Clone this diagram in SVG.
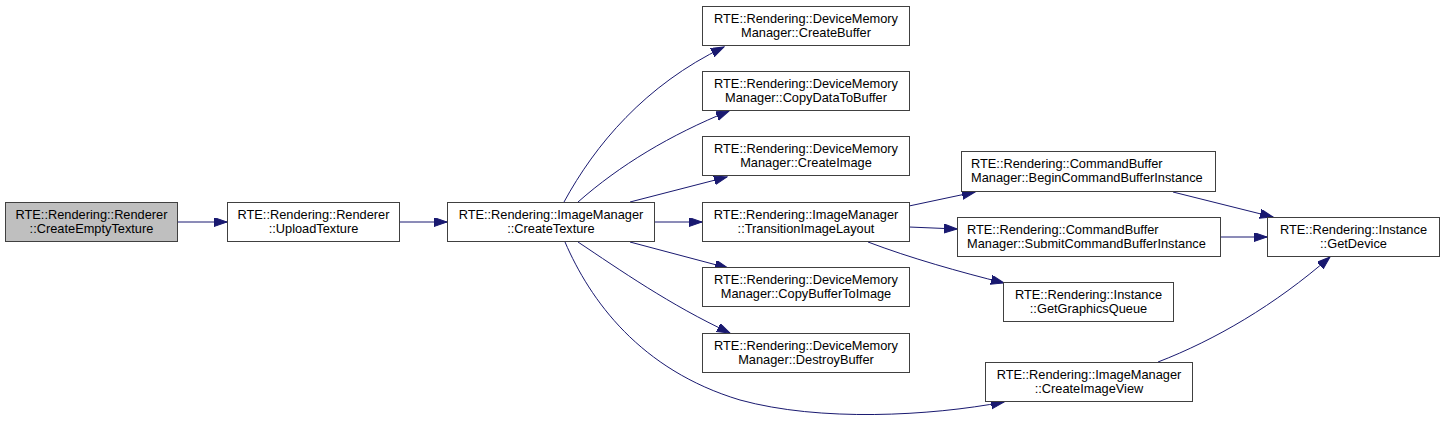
<svg xmlns="http://www.w3.org/2000/svg" width="1444" height="421" viewBox="0 0 1444 421">
<style>
.n rect{fill:#ffffff;stroke:#404040;stroke-width:1}
.n.root rect{fill:#bfbfbf}
.n text{font-family:"Liberation Sans",Arial,sans-serif;font-size:12.8px;fill:#000000;text-anchor:middle}
.n text.l{text-anchor:start}
.e path{fill:none;stroke:#191970;stroke-width:1;marker-end:url(#ah)}
</style>
<defs>
<marker id="ah" markerUnits="userSpaceOnUse" markerWidth="14" markerHeight="10" refX="13" refY="4.5" orient="auto" viewBox="0 0 14 10">
<path d="M0,0 L13,4.5 L0,9 Z" fill="#191970" stroke="#191970" stroke-width="1"/>
</marker>
</defs>
<rect width="1444" height="421" fill="#ffffff"/>
<g id="connectors" class="e">
<path d="M178,222 L227,222"/>
<path d="M400,222 L447,222"/>
<path d="M564,202 C595,145 645,85 724,47"/>
<path d="M578,202 C620,165 670,135 729,111"/>
<path d="M630,202 L727,177"/>
<path d="M655,222 L702,222"/>
<path d="M630,242 L728,268"/>
<path d="M578,242 C620,270 670,305 730,333"/>
<path d="M565,242 C590,300 640,370 740,400 C820,422 930,416 1004,402"/>
<path d="M909,206 L975,192"/>
<path d="M909,227 L957,229"/>
<path d="M868,242 C910,258 960,272 1004,283"/>
<path d="M1173,192 L1273,217"/>
<path d="M1221,237 L1267,237"/>
<path d="M1158,362 C1215,340 1275,305 1330,257"/>
</g>
<g id="node_CreateEmptyTexture" class="n root">
<rect x="5.5" y="202.5" width="172" height="39"/>
<text x="91.5" y="218.5">RTE::Rendering::Renderer</text>
<text x="91.5" y="232.5">::CreateEmptyTexture</text>
</g>
<g id="node_UploadTexture" class="n">
<rect x="227.5" y="202.5" width="172" height="39"/>
<text x="313.5" y="218.5">RTE::Rendering::Renderer</text>
<text x="313.5" y="232.5">::UploadTexture</text>
</g>
<g id="node_CreateTexture" class="n">
<rect x="447.5" y="202.5" width="207" height="39"/>
<text x="551" y="218.5">RTE::Rendering::ImageManager</text>
<text x="551" y="232.5">::CreateTexture</text>
</g>
<g id="node_CreateBuffer" class="n">
<rect x="702.5" y="6.5" width="207" height="39"/>
<text x="806" y="22.5">RTE::Rendering::DeviceMemory</text>
<text x="806" y="36.5">Manager::CreateBuffer</text>
</g>
<g id="node_CopyDataToBuffer" class="n">
<rect x="702.5" y="71.5" width="207" height="39"/>
<text x="806" y="87.5">RTE::Rendering::DeviceMemory</text>
<text x="806" y="101.5">Manager::CopyDataToBuffer</text>
</g>
<g id="node_CreateImage" class="n">
<rect x="702.5" y="136.5" width="207" height="39"/>
<text x="806" y="152.5">RTE::Rendering::DeviceMemory</text>
<text x="806" y="166.5">Manager::CreateImage</text>
</g>
<g id="node_TransitionImageLayout" class="n">
<rect x="702.5" y="202.5" width="207" height="39"/>
<text x="806" y="218.5">RTE::Rendering::ImageManager</text>
<text x="806" y="232.5">::TransitionImageLayout</text>
</g>
<g id="node_CopyBufferToImage" class="n">
<rect x="702.5" y="267.5" width="207" height="39"/>
<text x="806" y="283.5">RTE::Rendering::DeviceMemory</text>
<text x="806" y="297.5">Manager::CopyBufferToImage</text>
</g>
<g id="node_DestroyBuffer" class="n">
<rect x="702.5" y="333.5" width="207" height="39"/>
<text x="806" y="349.5">RTE::Rendering::DeviceMemory</text>
<text x="806" y="363.5">Manager::DestroyBuffer</text>
</g>
<g id="node_BeginCommandBufferInstance" class="n">
<rect x="961.5" y="151.5" width="254" height="40"/>
<text class="l" x="971" y="168">RTE::Rendering::CommandBuffer</text>
<text class="l" x="971" y="182">Manager::BeginCommandBufferInstance</text>
</g>
<g id="node_SubmitCommandBufferInstance" class="n">
<rect x="957.5" y="217.5" width="263" height="39"/>
<text class="l" x="967" y="233.5">RTE::Rendering::CommandBuffer</text>
<text class="l" x="967" y="247.5">Manager::SubmitCommandBufferInstance</text>
</g>
<g id="node_GetGraphicsQueue" class="n">
<rect x="1003.5" y="282.5" width="170" height="39"/>
<text x="1088.5" y="298.5">RTE::Rendering::Instance</text>
<text x="1088.5" y="312.5">::GetGraphicsQueue</text>
</g>
<g id="node_CreateImageView" class="n">
<rect x="985.5" y="362.5" width="207" height="39"/>
<text x="1089" y="378.5">RTE::Rendering::ImageManager</text>
<text x="1089" y="392.5">::CreateImageView</text>
</g>
<g id="node_GetDevice" class="n">
<rect x="1267.5" y="217.5" width="172" height="39"/>
<text x="1353.5" y="233.5">RTE::Rendering::Instance</text>
<text x="1353.5" y="247.5">::GetDevice</text>
</g>
</svg>
